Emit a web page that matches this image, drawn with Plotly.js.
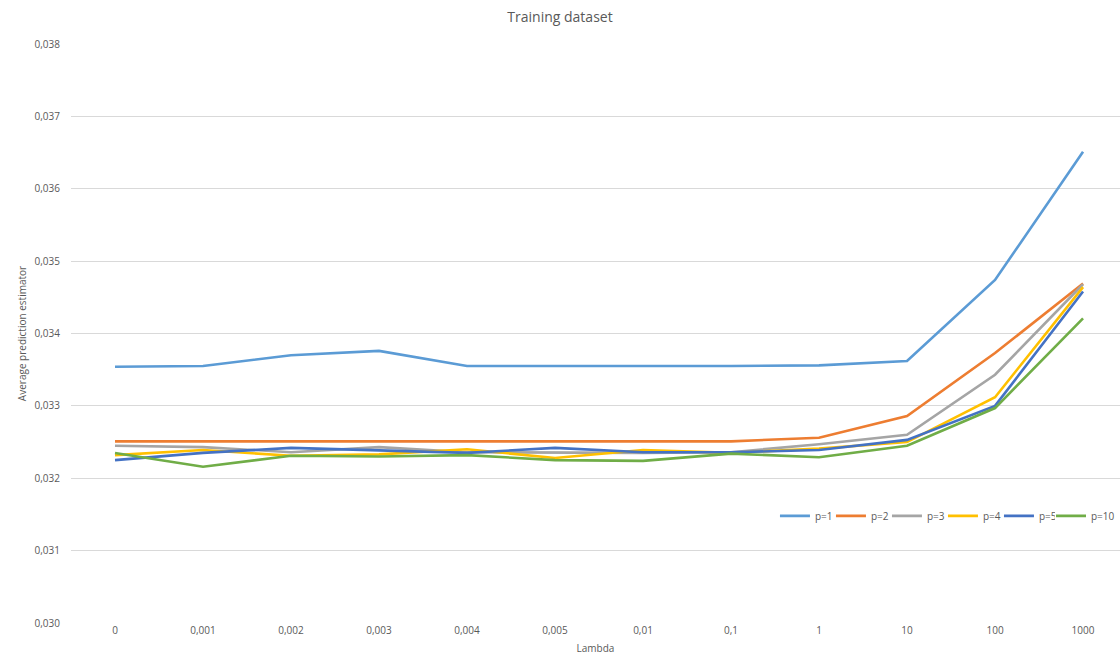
<!DOCTYPE html>
<html>
<head>
<meta charset="utf-8">
<script src="https://cdn.plot.ly/plotly-3.0.1.min.js"></script>
<style>html,body{margin:0;padding:0;background:#fff;}#chart{width:1120px;height:666px;}</style>
</head>
<body>
<div id="chart"></div>
<script>
const lambdas = ["0", "0,001", "0,002", "0,003", "0,004", "0,005", "0,01", "0,1", "1", "10", "100", "1000"];
const seriesNames = ["p=1", "p=2", "p=3", "p=4", "p=5", "p=10"];
const p1  = [0.03354, 0.03355, 0.03370, 0.03376, 0.03355, 0.03355, 0.03354, 0.03355, 0.03356, 0.03362, 0.03474, 0.03651];
const p2  = [0.03251, 0.03251, 0.03251, 0.03251, 0.03251, 0.03251, 0.03251, 0.03251, 0.03256, 0.03286, 0.03373, 0.03469];
const p3  = [0.03245, 0.03243, 0.03236, 0.03243, 0.03236, 0.03235, 0.03235, 0.03236, 0.03247, 0.03260, 0.03343, 0.03468];
const p4  = [0.03232, 0.03239, 0.03231, 0.03233, 0.03240, 0.03228, 0.03239, 0.03235, 0.03241, 0.03250, 0.03312, 0.03464];
const p5  = [0.03225, 0.03235, 0.03242, 0.03238, 0.03235, 0.03242, 0.03236, 0.03236, 0.03239, 0.03253, 0.03300, 0.03458];
const p10 = [0.03235, 0.03216, 0.03231, 0.03230, 0.03232, 0.03225, 0.03224, 0.03234, 0.03229, 0.03245, 0.03297, 0.03421];
const colors = ["#5B9BD5", "#ED7D31", "#A5A5A5", "#FFC000", "#4472C4", "#70AD47"];
const allSeries = [p1, p2, p3, p4, p5, p10];

const traces = allSeries.map((vals, i) => ({
  type: "scatter",
  mode: "lines",
  x: lambdas,
  y: vals,
  name: seriesNames[i],
  legend: i === allSeries.length - 1 ? "legend2" : "legend",
  line: {color: colors[i], width: 2.6}
}));

const legendCommon = {
  orientation: "h",
  yanchor: "middle",
  y: 0.185,
  xanchor: "right",
  bgcolor: "rgba(0,0,0,0)",
  font: {size: 10, color: "#595959"},
  itemwidth: 30,
  entrywidthmode: "pixels",
  traceorder: "normal"
};

const layout = {
  width: 1120,
  height: 666,
  margin: {l: 71, r: 0, t: 44, b: 43},
  paper_bgcolor: "#ffffff",
  plot_bgcolor: "#ffffff",
  separators: ",.",
  font: {family: "Open Sans, sans-serif", color: "#595959", size: 10},
  title: {text: "Training dataset", font: {size: 14, color: "#595959"}, x: 0.5, xanchor: "center", y: 0.975, yanchor: "middle"},
  xaxis: {
    type: "category",
    range: [-0.5, 11.42],
    showgrid: false,
    zeroline: false,
    showline: false,
    ticks: "",
    tickfont: {size: 10, color: "#595959"},
    title: {text: "Lambda", font: {size: 10, color: "#595959"}, standoff: 8}
  },
  yaxis: {
    range: [0.030, 0.038],
    dtick: 0.001,
    tick0: 0.030,
    tickformat: ".3f",
    showgrid: true,
    gridcolor: "#d9d9d9",
    gridwidth: 1,
    zeroline: false,
    showline: false,
    ticks: "",
    ticklabelstandoff: 10,
    tickfont: {size: 10, color: "#595959"},
    title: {text: "Average prediction estimator", font: {size: 10, color: "#595959"}, standoff: 6}
  },
  showlegend: true,
  legend: Object.assign({}, legendCommon, {x: 0.938, entrywidth: 11}),
  legend2: Object.assign({}, legendCommon, {x: 1, entrywidth: 24})
};

Plotly.newPlot("chart", traces, layout, {displayModeBar: false, staticPlot: true});
</script>
</body>
</html>
